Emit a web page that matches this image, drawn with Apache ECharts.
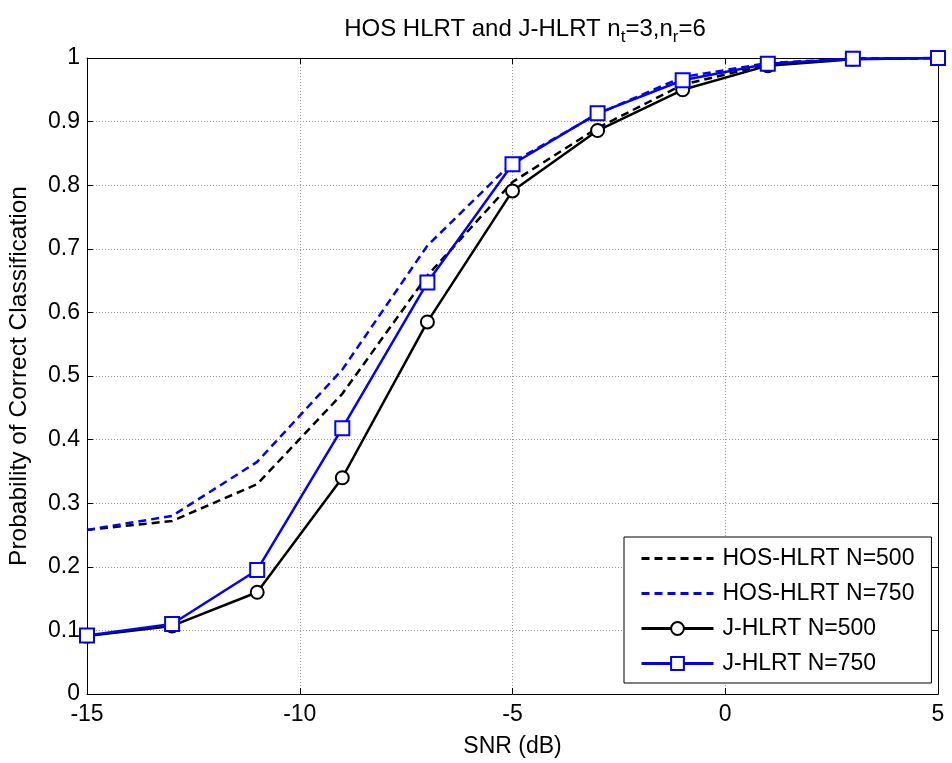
<!DOCTYPE html>
<html><head><meta charset="utf-8">
<script src="https://cdn.jsdelivr.net/npm/echarts@6/dist/echarts.min.js"></script>
<style>html,body{margin:0;padding:0;background:#fff}#c{width:952px;height:763px}</style>
</head><body><div id="c"></div>
<script>
var snr = [-15, -13, -11, -9, -7, -5, -3, -1, 1, 3, 5];
var hos500 = [0.258, 0.272, 0.330, 0.472, 0.658, 0.805, 0.890, 0.958, 0.990, 0.999, 1.0];
var hos750 = [0.258, 0.280, 0.365, 0.510, 0.705, 0.836, 0.912, 0.970, 0.992, 0.999, 1.0];
var j500 = [0.091, 0.107, 0.160, 0.340, 0.585, 0.791, 0.886, 0.950, 0.988, 0.998, 1.0];
var j750 = [0.092, 0.110, 0.195, 0.418, 0.647, 0.833, 0.913, 0.965, 0.991, 0.999, 1.0];
var seriesNames = ['HOS-HLRT N=500', 'HOS-HLRT N=750', 'J-HLRT N=500', 'J-HLRT N=750'];

function pairs(v){ return snr.map(function(x,i){ return [x, v[i]]; }); }
var FONT = 'Liberation Sans, Arial, sans-serif';
var FS = 23;
var chart = echarts.init(document.getElementById('c'));
var gridLine = {show:true, lineStyle:{color:'#999', type:[1,2], width:1}};
var axisLine = {show:true, onZero:false, lineStyle:{color:'#000', width:1}};
var tick = {show:true, inside:true, length:6, lineStyle:{color:'#000'}};
chart.setOption({
  animation:false,
  backgroundColor:'#fff',
  title:{
    text:'HOS HLRT and J-HLRT n{s|t}=3,n{s|r}=6',
    left:520, textAlign:'center', top:7,
    textStyle:{fontFamily:FONT, fontSize:24, fontWeight:'normal', color:'#000',
      rich:{s:{fontFamily:FONT, fontSize:17, color:'#000', padding:[17,0,0,0]}}}
  },
  grid:{left:87, right:14, top:58, bottom:69, containLabel:false, outerBoundsMode:'none'},
  legend:{
    orient:'vertical', left:624, top:537,
    padding:[10,17,8,16], itemGap:12, itemWidth:72, itemHeight:16,
    backgroundColor:'#fff', borderColor:'#000', borderWidth:1,
    textStyle:{fontFamily:FONT, fontSize:23, color:'#000', padding:[0,0,0,4]},
    data:[
      {name:seriesNames[0], itemStyle:{opacity:0}, lineStyle:{width:3}},
      {name:seriesNames[1], itemStyle:{opacity:0}, lineStyle:{width:3}},
      {name:seriesNames[2], lineStyle:{width:3}},
      {name:seriesNames[3], lineStyle:{width:3}}
    ]
  },
  xAxis:[{
    type:'value', min:-15, max:5, interval:5,
    name:'SNR (dB)', nameLocation:'middle', nameGap:41,
    nameTextStyle:{fontFamily:FONT, fontSize:FS, color:'#000', verticalAlign:'top'},
    axisLine:axisLine, axisTick:tick, splitLine:gridLine,
    axisLabel:{fontFamily:FONT, fontSize:FS, color:'#000', margin:9}
  },{
    type:'value', min:-15, max:5, interval:5, position:'top',
    axisLine:axisLine, axisTick:tick, splitLine:{show:false}, axisLabel:{show:false}
  }],
  yAxis:[{
    type:'value', min:0, max:1, interval:0.1,
    name:'Probability of Correct Classification', nameLocation:'middle', nameGap:55,
    nameTextStyle:{fontFamily:FONT, fontSize:24.5, color:'#000'},
    axisLine:axisLine, axisTick:tick, splitLine:gridLine,
    axisLabel:{fontFamily:FONT, fontSize:FS, color:'#000', margin:7,
      formatter:function(v){ return v===0?'0':(v===1?'1':v.toFixed(1)); }}
  },{
    type:'value', min:0, max:1, interval:0.1, position:'right',
    axisLine:axisLine, axisTick:tick, splitLine:{show:false}, axisLabel:{show:false}
  }],
  series:[
    {name:seriesNames[0], type:'line', data:pairs(hos500), showSymbol:false, symbol:'none',
     lineStyle:{color:'#000', width:2.5, type:[8,5]}, itemStyle:{color:'#000'}},
    {name:seriesNames[1], type:'line', data:pairs(hos750), showSymbol:false, symbol:'none',
     lineStyle:{color:'#0000ff', width:2.5, type:[8,5]}, itemStyle:{color:'#0000ff'}},
    {name:seriesNames[2], type:'line', data:pairs(j500), symbol:'emptyCircle', symbolSize:13,
     lineStyle:{color:'#000', width:2.5}, itemStyle:{color:'#000', borderColor:'#000', borderWidth:2.5}},
    {name:seriesNames[3], type:'line', data:pairs(j750), symbol:'emptyRect', symbolSize:14,
     lineStyle:{color:'#0000ff', width:2.5}, itemStyle:{color:'#0000ff', borderColor:'#0000ff', borderWidth:2.5}}
  ]
});
</script></body></html>
